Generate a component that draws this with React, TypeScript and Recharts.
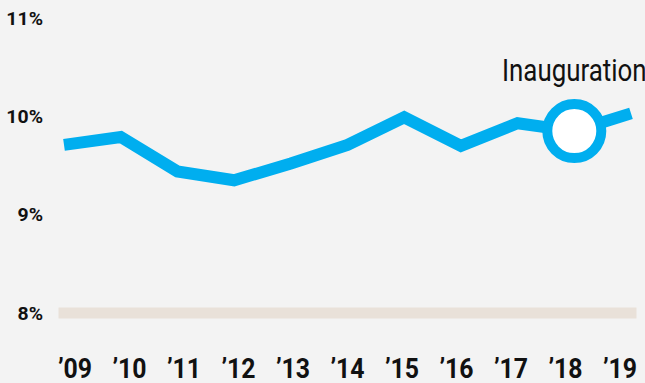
import { LineChart, Line, XAxis, YAxis, ReferenceLine } from "recharts";

const years = ["’09", "’10", "’11", "’12", "’13", "’14", "’15", "’16", "’17", "’18", "’19"];
const rates = [9.71, 9.79, 9.44, 9.35, 9.52, 9.71, 9.99, 9.7, 9.93, 9.85, 10.03];
const yTicks = [8, 9, 10, 11];
const markedYear = "’18";
const markLabel = "Inauguration";

const data = years.map((year, i) => ({ year, rate: rates[i] }));

const FONT = "Roboto, 'DejaVu Sans Condensed', sans-serif";
const BLUE = "#00aeef";

// the original face is a condensed grotesque, so Roboto gets squeezed horizontally
const YTick = (props: any) => {
  const { x, y, payload } = props;
  return (
    <text
      transform={`translate(${x},${y}) scale(1.05,1)`}
      dy="0.36em"
      textAnchor="end"
      fontFamily={FONT}
      fontWeight={700}
      fontSize={18.5}
      fill="#111"
    >
      {payload.value}%
    </text>
  );
};

const XTick = (props: any) => {
  const { x, y, payload } = props;
  return (
    <text
      transform={`translate(${x},${y + 65}) scale(0.92,1)`}
      textAnchor="middle"
      fontFamily={FONT}
      fontWeight={700}
      fontSize={27}
      fill="#111"
    >
      {payload.value}
    </text>
  );
};

const MarkDot = (props: any) => {
  const { cx, cy, payload, index } = props;
  if (payload.year !== markedYear) return <g key={`dot-${index}`} />;
  return (
    <g key={`dot-${index}`}>
      <circle cx={cx} cy={cy} r={27} fill="#fff" stroke={BLUE} strokeWidth={10} />
      <text
        transform={`translate(${cx},${cy - 50}) scale(0.835,1)`}
        textAnchor="middle"
        fontFamily={FONT}
        fontSize={31}
        fill="#111"
      >
        {markLabel}
      </text>
    </g>
  );
};

const App = () => {
  return (
    <div style={{ position: "absolute", left: 0, top: 0, width: 645, height: 383, background: "#f3f3f3" }}>
      <LineChart width={645} height={383} data={data} margin={{ top: 18, right: 14, bottom: 0, left: 8 }}>
        {/* line runs edge to edge; the year labels sit slightly inset */}
        <XAxis xAxisId="line" dataKey="year" hide />
        <XAxis
          xAxisId="labels"
          dataKey="year"
          height={70}
          padding={{ left: 11, right: 11 }}
          axisLine={false}
          tickLine={false}
          tickSize={0}
          tickMargin={0}
          tick={<XTick />}
          interval={0}
        />
        <YAxis domain={[8, 11]} ticks={yTicks} width={56} axisLine={false} tickLine={false} tickSize={0} tickMargin={21} tick={<YTick />} />
        <ReferenceLine xAxisId="line" y={8} stroke="#e9e1d9" strokeWidth={11} strokeLinecap="square" />
        <Line
          xAxisId="line"
          type="linear"
          dataKey="rate"
          stroke={BLUE}
          strokeWidth={12}
          strokeLinejoin="miter"
          strokeLinecap="butt"
          dot={MarkDot}
          activeDot={false}
          isAnimationActive={false}
        />
      </LineChart>
    </div>
  );
};

export default App;
